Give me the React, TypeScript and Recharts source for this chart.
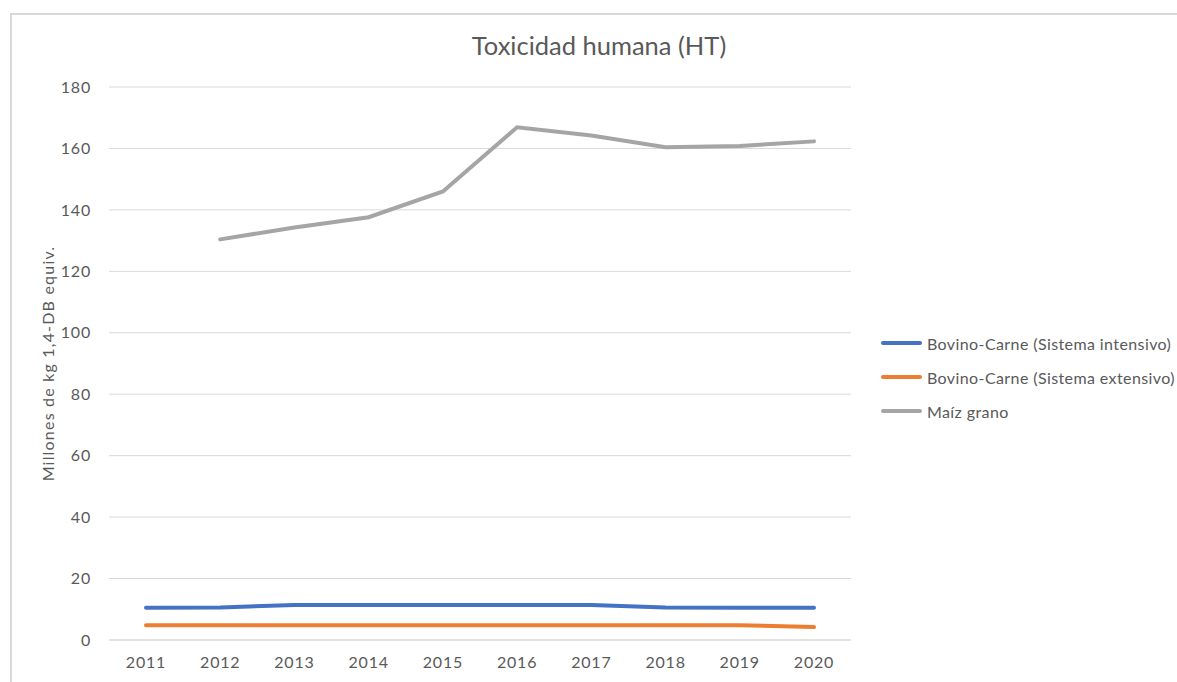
import { LineChart, Line, XAxis, YAxis, CartesianGrid, Legend, Label } from 'recharts';

const years = ['2011', '2012', '2013', '2014', '2015', '2016', '2017', '2018', '2019', '2020'];
const intensivo = [10.5, 10.6, 11.4, 11.4, 11.4, 11.4, 11.4, 10.6, 10.5, 10.5];
const extensivo = [4.8, 4.8, 4.8, 4.8, 4.8, 4.8, 4.8, 4.8, 4.8, 4.2];
const maiz = [null, 130.4, 134.3, 137.6, 146.0, 166.9, 164.2, 160.4, 160.8, 162.3];
const yTicks = [0, 20, 40, 60, 80, 100, 120, 140, 160, 180];
const seriesNames = ['Bovino-Carne (Sistema intensivo)', 'Bovino-Carne (Sistema extensivo)', 'Maíz grano'];

const data = years.map((year, i) => ({
    year,
    intensivo: intensivo[i],
    extensivo: extensivo[i],
    maiz: maiz[i],
}));

const FONT = 'Lato, "Open Sans", sans-serif';
const TEXT = '#595959';

const renderLegend = (props: any) => (
    <div style={{ fontFamily: FONT, fontSize: 16, letterSpacing: 0.4, color: TEXT }}>
        {props.payload.map((entry: any) => (
            <div key={entry.value} style={{ display: 'flex', alignItems: 'center', height: 34 }}>
                <span
                    style={{
                        display: 'inline-block',
                        width: 41,
                        height: 4,
                        borderRadius: 2,
                        background: entry.color,
                        marginRight: 5,
                    }}
                />
                <span style={{ whiteSpace: 'nowrap' }}>{entry.value}</span>
            </div>
        ))}
    </div>
);

export default function App() {
    return (
        <div style={{ position: 'absolute', left: 0, top: 0, width: 1177, height: 682, overflow: 'hidden', background: '#fff' }}>
            {/* chart frame: only top and left edges are visible in the crop */}
            <div
                style={{
                    position: 'absolute',
                    left: 10,
                    top: 13,
                    width: 1180,
                    height: 700,
                    borderTop: '2px solid #d9d9d9',
                    borderLeft: '2px solid #d9d9d9',
                }}
            />
            <div
                style={{
                    position: 'absolute',
                    left: 0,
                    width: 1198,
                    top: 30,
                    textAlign: 'center',
                    fontFamily: FONT,
                    fontSize: 25.5,
                    color: TEXT,
                    lineHeight: '30px',
                }}
            >
                Toxicidad humana (HT)
            </div>
            <div style={{ position: 'absolute', left: 0, top: 0 }}>
                <LineChart
                    width={1177}
                    height={682}
                    data={data}
                    margin={{ top: 87, right: 326, bottom: 12, left: 0 }}
                >
                    <CartesianGrid vertical={false} stroke="#d9d9d9" strokeWidth={1} />
                    <XAxis
                        dataKey="year"
                        height={30}
                        padding={{ left: 37, right: 37 }}
                        tickLine={false}
                        axisLine={{ stroke: '#d9d9d9' }}
                        tickMargin={11}
                        tick={{ fill: TEXT, fontSize: 16, fontFamily: FONT, letterSpacing: 0.8 }}
                    />
                    <YAxis
                        width={109}
                        domain={[0, 180]}
                        ticks={yTicks}
                        interval={0}
                        tickLine={false}
                        axisLine={false}
                        tickMargin={12}
                        tick={{ fill: TEXT, fontSize: 16, fontFamily: FONT, letterSpacing: 0.8 }}
                    >
                        <Label
                            value="Millones de kg 1,4-DB equiv."
                            angle={-90}
                            position="insideLeft"
                            offset={48}
                            style={{ textAnchor: 'middle', fill: TEXT, fontSize: 16, letterSpacing: 1.2, fontFamily: FONT }}
                        />
                    </YAxis>
                    <Legend
                        layout="vertical"
                        align="center"
                        verticalAlign="middle"
                        itemSorter={(item: any) => seriesNames.indexOf(item.value)}
                        wrapperStyle={{ left: 881, top: 326, width: 296 }}
                        content={renderLegend}
                    />
                    <Line
                        type="linear"
                        dataKey="intensivo"
                        name={seriesNames[0]}
                        stroke="#4472C4"
                        strokeWidth={4}
                        strokeLinecap="round"
                        dot={false}
                        activeDot={false}
                        isAnimationActive={false}
                    />
                    <Line
                        type="linear"
                        dataKey="extensivo"
                        name={seriesNames[1]}
                        stroke="#ED7D31"
                        strokeWidth={4}
                        strokeLinecap="round"
                        dot={false}
                        activeDot={false}
                        isAnimationActive={false}
                    />
                    <Line
                        type="linear"
                        dataKey="maiz"
                        name={seriesNames[2]}
                        stroke="#A5A5A5"
                        strokeWidth={4}
                        strokeLinecap="round"
                        dot={false}
                        activeDot={false}
                        isAnimationActive={false}
                    />
                </LineChart>
            </div>
        </div>
    );
}
